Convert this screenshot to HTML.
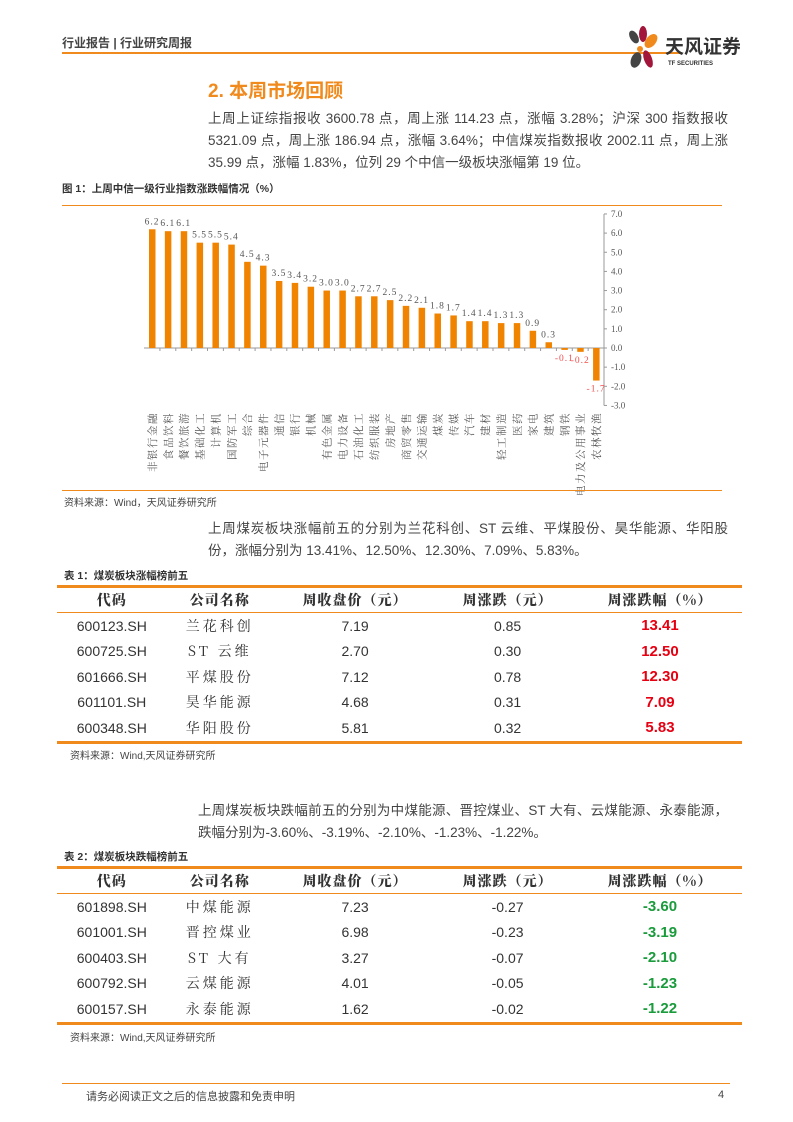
<!DOCTYPE html>
<html><head><meta charset="utf-8"><style>
body{margin:0;width:793px;height:1122px;position:relative;background:#fff;font-family:"Liberation Sans","Noto Sans CJK SC",sans-serif;color:#333;overflow:hidden}
.a{position:absolute}
.p{font-size:13.5px;line-height:22px;color:#444;text-align:justify}
table{border-collapse:collapse;position:absolute;left:57px;width:685px;font-size:14px;border-top:3px solid #f08a1c;border-bottom:3px solid #f08a1c}
td,th{text-align:center;height:25.5px;padding:0}
th{font-family:"Noto Serif CJK SC",serif;font-weight:900;font-size:14px;border-bottom:1.5px solid #f08a1c;height:24px;letter-spacing:1px}
.n{font-family:"Noto Serif CJK SC",serif;letter-spacing:3px}
.r{color:#e60012;font-weight:bold;font-size:15px}
.g{color:#1a9b3c;font-weight:bold;font-size:15px}
.src{font-size:10px;color:#444}
.cap{font-size:10.5px;font-weight:bold;color:#333}
</style></head><body>
<div class="a" style="left:62px;top:34px;font-size:12px;font-weight:bold;color:#444">行业报告 | 行业研究周报</div>
<div class="a" style="left:62px;top:52px;width:620px;height:2px;background:#f08a1c"></div>
<svg class="a" style="left:620px;top:25px" width="120" height="50">
<ellipse cx="14" cy="12" rx="4" ry="7" fill="#444" transform="rotate(-30 14 12)"/>
<ellipse cx="23" cy="9" rx="4" ry="8" fill="#a3163b"/>
<ellipse cx="31" cy="16" rx="5" ry="8" fill="#f08a1c" transform="rotate(40 31 16)"/>
<ellipse cx="16" cy="35" rx="5" ry="8" fill="#444" transform="rotate(20 16 35)"/>
<ellipse cx="28" cy="34" rx="4" ry="9" fill="#a3163b" transform="rotate(-20 28 34)"/>
<circle cx="20" cy="24" r="3" fill="#f08a1c"/>
<text x="45" y="28" font-size="19" font-weight="bold" fill="#333" font-family="Noto Sans CJK SC,sans-serif">天风证券</text>
<text x="48" y="40" font-size="6" font-weight="bold" fill="#333">TF SECURITIES</text>
</svg>
<div class="a" style="left:208px;top:76px;font-size:19px;font-weight:bold;color:#f08a1c">2. 本周市场回顾</div>
<div class="a p" style="left:208px;top:108px;width:520px">上周上证综指报收 3600.78 点，周上涨 114.23 点，涨幅 3.28%；沪深 300 指数报收 5321.09 点，周上涨 186.94 点，涨幅 3.64%；中信煤炭指数报收 2002.11 点，周上涨 35.99 点，涨幅 1.83%，位列 29 个中信一级板块涨幅第 19 位。</div>
<div class="a cap" style="left:62px;top:181px">图 1：上周中信一级行业指数涨跌幅情况（%）</div>
<div class="a" style="left:62px;top:205px;width:660px;height:1px;background:#f08a1c"></div>
<svg id="chart" class="a" style="left:0;top:0" width="793" height="500"></svg>
<div class="a" style="left:62px;top:490px;width:660px;height:1px;background:#f08a1c"></div>
<div class="a src" style="left:64px;top:494px">资料来源：Wind，天风证券研究所</div>
<div class="a p" style="left:208px;top:518px;width:520px">上周煤炭板块涨幅前五的分别为兰花科创、ST 云维、平煤股份、昊华能源、华阳股份，涨幅分别为 13.41%、12.50%、12.30%、7.09%、5.83%。</div>
<div class="a cap" style="left:64px;top:568px">表 1：煤炭板块涨幅榜前五</div>
<table style="top:585px">
<tr><th>代码</th><th>公司名称</th><th>周收盘价（元）</th><th>周涨跌（元）</th><th>周涨跌幅（%）</th></tr>
<tr><td>600123.SH</td><td class="n">兰花科创</td><td>7.19</td><td>0.85</td><td class="r">13.41</td></tr>
<tr><td>600725.SH</td><td class="n">ST 云维</td><td>2.70</td><td>0.30</td><td class="r">12.50</td></tr>
<tr><td>601666.SH</td><td class="n">平煤股份</td><td>7.12</td><td>0.78</td><td class="r">12.30</td></tr>
<tr><td>601101.SH</td><td class="n">昊华能源</td><td>4.68</td><td>0.31</td><td class="r">7.09</td></tr>
<tr><td>600348.SH</td><td class="n">华阳股份</td><td>5.81</td><td>0.32</td><td class="r">5.83</td></tr>
</table>
<div class="a src" style="left:70px;top:747px">资料来源：Wind,天风证券研究所</div>
<div class="a p" style="left:198px;top:800px;width:530px">上周煤炭板块跌幅前五的分别为中煤能源、晋控煤业、ST 大有、云煤能源、永泰能源，跌幅分别为-3.60%、-3.19%、-2.10%、-1.23%、-1.22%。</div>
<div class="a cap" style="left:64px;top:849px">表 2：煤炭板块跌幅榜前五</div>
<table style="top:866px">
<tr><th>代码</th><th>公司名称</th><th>周收盘价（元）</th><th>周涨跌（元）</th><th>周涨跌幅（%）</th></tr>
<tr><td>601898.SH</td><td class="n">中煤能源</td><td>7.23</td><td>-0.27</td><td class="g">-3.60</td></tr>
<tr><td>601001.SH</td><td class="n">晋控煤业</td><td>6.98</td><td>-0.23</td><td class="g">-3.19</td></tr>
<tr><td>600403.SH</td><td class="n">ST 大有</td><td>3.27</td><td>-0.07</td><td class="g">-2.10</td></tr>
<tr><td>600792.SH</td><td class="n">云煤能源</td><td>4.01</td><td>-0.05</td><td class="g">-1.23</td></tr>
<tr><td>600157.SH</td><td class="n">永泰能源</td><td>1.62</td><td>-0.02</td><td class="g">-1.22</td></tr>
</table>
<div class="a src" style="left:70px;top:1029px">资料来源：Wind,天风证券研究所</div>
<div class="a" style="left:62px;top:1083px;width:668px;height:1px;background:#f08a1c"></div>
<div class="a" style="left:86px;top:1088px;font-size:11px;color:#444">请务必阅读正文之后的信息披露和免责申明</div>
<div class="a" style="left:718px;top:1089px;font-size:11px;color:#444">4</div>
<script>
const categories=["非银行金融","食品饮料","餐饮旅游","基础化工","计算机","国防军工","综合","电子元器件","通信","银行","机械","有色金属","电力设备","石油化工","纺织服装","房地产","商贸零售","交通运输","煤炭","传媒","汽车","建材","轻工制造","医药","家电","建筑","钢铁","电力及公用事业","农林牧渔"];
const values=[6.2,6.1,6.1,5.5,5.5,5.4,4.5,4.3,3.5,3.4,3.2,3.0,3.0,2.7,2.7,2.5,2.2,2.1,1.8,1.7,1.4,1.4,1.3,1.3,0.9,0.3,-0.1,-0.2,-1.7];
const ticks=[7,6,5,4,3,2,1,0,-1,-2,-3];
const svg=document.getElementById('chart');
const NS='http://www.w3.org/2000/svg';
const y0=348,unit=19.15,x0=152,step=15.86,axisX=604;
const Y=v=>y0-v*unit, X=i=>x0+i*step;
function mk(t,a){const e=document.createElementNS(NS,t);for(const k in a)e.setAttribute(k,a[k]);svg.appendChild(e);return e;}
let ax=mk('line',{x1:axisX,x2:axisX,y1:Y(7),y2:Y(-3),stroke:'#999'});


ticks.forEach(t=>{
  mk('line',{x1:axisX,x2:axisX+3,y1:Y(t),y2:Y(t),stroke:'#999'});
  const tx=mk('text',{x:axisX+7,y:Y(t)+3,'font-size':9,fill:'#555','font-family':'Liberation Serif,serif'});
  tx.textContent=t.toFixed(1);
  
  
});
let zl=mk('line',{x1:144,x2:axisX,y1:y0,y2:y0,stroke:'#999'});


categories.forEach((c,i)=>{
  const v=values[i],x=X(i);
  mk('line',{x1:x+step/2,x2:x+step/2,y1:y0,y2:y0+3,stroke:'#999'});
  const b=mk('rect',{x:x-3,width:6.5,y:Math.min(Y(v),y0),height:Math.abs(Y(v)-y0),fill:'#f08300'});
  
  
  const lb=mk('text',{x:x,y:v>=0?Y(v)-5:Y(v)+11,'font-size':9.5,'text-anchor':'middle',fill:v>=0?'#555':'#f05050','font-family':'Liberation Serif,serif','letter-spacing':'1'});
  lb.textContent=v.toFixed(1);
  
  
  const cl=mk('text',{transform:'translate('+(x+4)+',412) rotate(-90)','text-anchor':'end','font-size':10.5,fill:'#555','font-family':'Noto Serif CJK SC,serif','letter-spacing':'1.5'});
  cl.textContent=c;
  
  
});
</script>
</body></html>
